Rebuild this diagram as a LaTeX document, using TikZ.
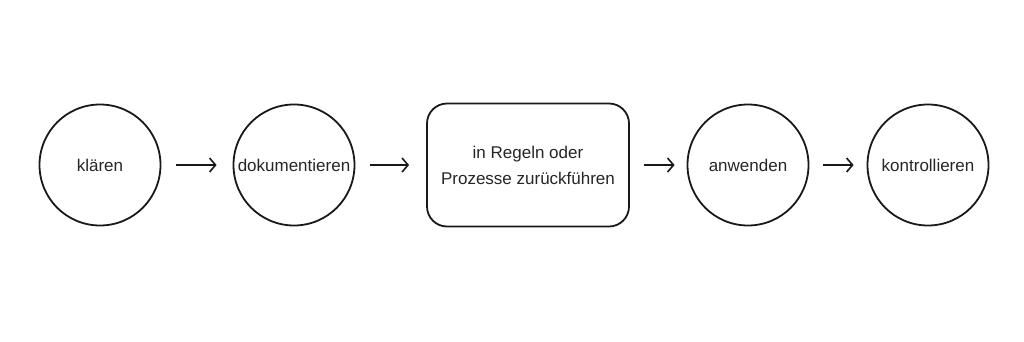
\documentclass[tikz,border=0pt]{standalone}
\usepackage{fontspec}
\setmainfont{Liberation Sans}
\usetikzlibrary{arrows.meta}
\begin{document}
\begin{tikzpicture}[x=1pt,y=-1pt,
  every node/.style={font=\fontsize{17}{26}\selectfont, text=black!85},
  stepcircle/.style={draw=black!90, line width=1.8pt, circle, minimum size=121pt, inner sep=0pt},
  stepbox/.style={draw=black!90, line width=1.8pt, rounded corners=20pt, minimum width=202pt, minimum height=123pt, align=center, inner sep=0pt},
  flow/.style={draw=black!90, line width=1.6pt, -{Straight Barb[length=6pt,width=14pt,line width=1.6pt]}}]
\useasboundingbox[fill=white] (0,0) rectangle (1024,341);
\node[stepcircle] (a) at (100,165) {klären};
\node[stepcircle] (b) at (294,165) {dokumentieren};
\node[stepbox] (c) at (528,165) {in Regeln oder\\Prozesse zurückführen};
\node[stepcircle] (d) at (748,165) {anwenden};
\node[stepcircle] (e) at (928,165) {kontrollieren};
\draw[flow] ([xshift=15pt]a.east) -- ([xshift=-16pt]b.west);
\draw[flow] ([xshift=15pt]b.east) -- ([xshift=-17pt]c.west);
\draw[flow] ([xshift=14pt]c.east) -- ([xshift=-12pt]d.west);
\draw[flow] ([xshift=14pt]d.east) -- ([xshift=-13pt]e.west);
\end{tikzpicture}
\end{document}
